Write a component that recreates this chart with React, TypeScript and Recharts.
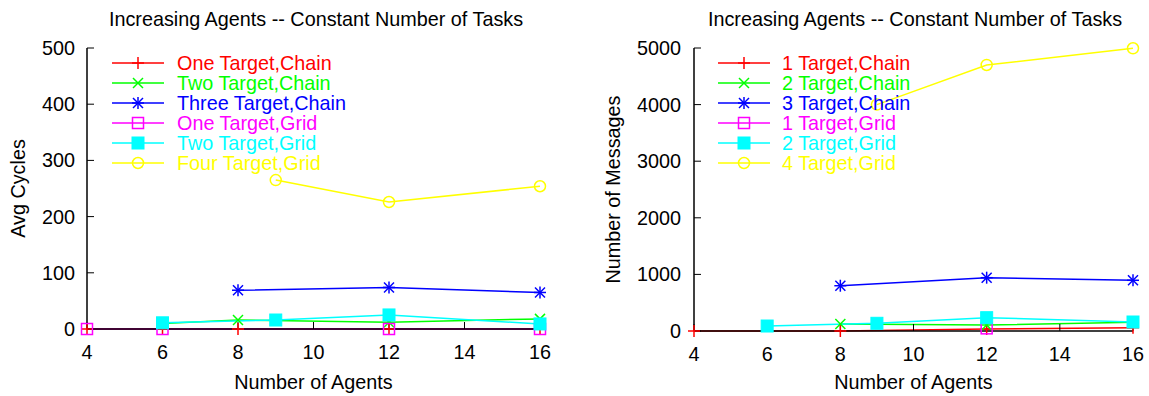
import { LineChart, Line, XAxis, YAxis, Legend } from 'recharts';

const FONT = '"Liberation Sans", Arial, Helvetica, sans-serif';
const FS = 19.8;

const titleText = 'Increasing Agents -- Constant Number of Tasks';
const agentTicks = [4, 6, 8, 10, 12, 14, 16];
const cycleTicks = [0, 100, 200, 300, 400, 500];
const messageTicks = [0, 1000, 2000, 3000, 4000, 5000];

// left panel: average cycles
const oneChainAgents = [4, 6, 8, 12, 16];
const oneChainCycles = [0, 0, 0, 0, 0];
const twoChainAgents = [6, 8, 12, 16];
const twoChainCycles = [10, 16, 12, 18];
const threeChainAgents = [8, 12, 16];
const threeChainCycles = [69, 74, 65];
const oneGridAgents = [4, 6, 12, 16];
const oneGridCycles = [0, 0, 0, 0];
const twoGridAgents = [6, 9, 12, 16];
const twoGridCycles = [11, 16, 25, 9];
const fourGridAgents = [9, 12, 16];
const fourGridCycles = [265, 226, 254];

// right panel: number of messages
const oneChainMsgAgents = [4, 8, 12, 16];
const oneChainMessages = [0, 0, 35, 58];
const twoChainMsgAgents = [8, 12, 16];
const twoChainMessages = [124, 106, 153];
const threeChainMsgAgents = [8, 12, 16];
const threeChainMessages = [800, 942, 896];
const oneGridMsgAgents = [12];
const oneGridMessages = [47];
const twoGridMsgAgents = [6, 9, 12, 16];
const twoGridMessages = [88, 136, 235, 159];
const fourGridMsgAgents = [9, 12, 16];
const fourGridMessages = [4000, 4700, 4995];

type Shape = 'plus' | 'cross' | 'star' | 'square' | 'filledSquare' | 'circle';

interface Series {
  name: string;
  color: string;
  shape: Shape;
  points: { agents: number; value: number }[];
}

const toPoints = (xs: number[], ys: number[]) => xs.map((x, i) => ({ agents: x, value: ys[i] }));

const cycleSeries: Series[] = [
  { name: 'One Target,Chain', color: '#ff0000', shape: 'plus', points: toPoints(oneChainAgents, oneChainCycles) },
  { name: 'Two Target,Chain', color: '#00ff00', shape: 'cross', points: toPoints(twoChainAgents, twoChainCycles) },
  { name: 'Three Target,Chain', color: '#0000ff', shape: 'star', points: toPoints(threeChainAgents, threeChainCycles) },
  { name: 'One Target,Grid', color: '#ff00ff', shape: 'square', points: toPoints(oneGridAgents, oneGridCycles) },
  { name: 'Two Target,Grid', color: '#00ffff', shape: 'filledSquare', points: toPoints(twoGridAgents, twoGridCycles) },
  { name: 'Four Target,Grid', color: '#ffff00', shape: 'circle', points: toPoints(fourGridAgents, fourGridCycles) },
];

const messageSeries: Series[] = [
  { name: '1 Target,Chain', color: '#ff0000', shape: 'plus', points: toPoints(oneChainMsgAgents, oneChainMessages) },
  { name: '2 Target,Chain', color: '#00ff00', shape: 'cross', points: toPoints(twoChainMsgAgents, twoChainMessages) },
  { name: '3 Target,Chain', color: '#0000ff', shape: 'star', points: toPoints(threeChainMsgAgents, threeChainMessages) },
  { name: '1 Target,Grid', color: '#ff00ff', shape: 'square', points: toPoints(oneGridMsgAgents, oneGridMessages) },
  { name: '2 Target,Grid', color: '#00ffff', shape: 'filledSquare', points: toPoints(twoGridMsgAgents, twoGridMessages) },
  { name: '4 Target,Grid', color: '#ffff00', shape: 'circle', points: toPoints(fourGridMsgAgents, fourGridMessages) },
];

function Marker({ cx, cy, shape, color }: { cx: number; cy: number; shape: Shape; color: string }) {
  const s = 6;
  const sw = 1.5;
  switch (shape) {
    case 'plus':
      return (
        <g stroke={color} strokeWidth={sw}>
          <line x1={cx - s} y1={cy} x2={cx + s} y2={cy} />
          <line x1={cx} y1={cy - s} x2={cx} y2={cy + s} />
        </g>
      );
    case 'cross':
      return (
        <g stroke={color} strokeWidth={sw}>
          <line x1={cx - 5} y1={cy - 5} x2={cx + 5} y2={cy + 5} />
          <line x1={cx - 5} y1={cy + 5} x2={cx + 5} y2={cy - 5} />
        </g>
      );
    case 'star':
      return (
        <g stroke={color} strokeWidth={sw}>
          <line x1={cx - s} y1={cy} x2={cx + s} y2={cy} />
          <line x1={cx} y1={cy - s} x2={cx} y2={cy + s} />
          <line x1={cx - 5} y1={cy - 5} x2={cx + 5} y2={cy + 5} />
          <line x1={cx - 5} y1={cy + 5} x2={cx + 5} y2={cy - 5} />
        </g>
      );
    case 'square':
      return <rect x={cx - 5.5} y={cy - 5.5} width={11} height={11} fill="none" stroke={color} strokeWidth={sw} />;
    case 'filledSquare':
      return <rect x={cx - 6} y={cy - 6} width={12} height={12} fill={color} stroke={color} strokeWidth={1} />;
    default:
      return <circle cx={cx} cy={cy} r={5.5} fill="none" stroke={color} strokeWidth={sw} />;
  }
}

function LegendBox({ series, textGap }: { series: Series[]; textGap: number }) {
  return (
    <div style={{ fontFamily: FONT, fontSize: FS }}>
      {series.map((s) => (
        <div key={s.name} style={{ display: 'flex', alignItems: 'center', height: 20, whiteSpace: 'nowrap' }}>
          <svg width={52} height={20} style={{ flex: 'none' }}>
            <line x1={0} y1={10} x2={52} y2={10} stroke={s.color} strokeWidth={1.5} />
            <Marker cx={26} cy={10} shape={s.shape} color={s.color} />
          </svg>
          <span style={{ color: s.color, marginLeft: textGap, lineHeight: '20px' }}>{s.name}</span>
        </div>
      ))}
    </div>
  );
}

interface PanelProps {
  series: Series[];
  yTicks: number[];
  yLabel: string;
  width: number;
  marginRight: number;
  yAxisWidth: number;
  xAxisHeight: number;
  yLabelX: number;
  yTickMargin: number;
  legendLeft: number;
  legendGap: number;
  titleCenter: number;
}

function Panel(p: PanelProps) {
  const tickStyle = { fontSize: FS, fill: '#000', fontFamily: FONT };
  const yMax = p.yTicks[p.yTicks.length - 1];
  return (
    <div style={{ position: 'relative', width: p.width, height: 396 }}>
      <div
        style={{
          position: 'absolute',
          left: p.titleCenter - 300,
          top: 7,
          width: 600,
          textAlign: 'center',
          fontFamily: FONT,
          fontSize: FS,
          lineHeight: '24px',
          color: '#000',
          zIndex: 2,
        }}
      >
        {titleText}
      </div>
      <LineChart width={p.width} height={396} margin={{ top: 48, right: p.marginRight, bottom: 0, left: 0 }}>
        <XAxis
          xAxisId="bottom"
          type="number"
          dataKey="agents"
          domain={[4, 16]}
          ticks={agentTicks}
          height={p.xAxisHeight}
          tickSize={-7}
          tickMargin={23}
          tick={tickStyle}
          stroke="#000"
          axisLine={{ stroke: '#000', strokeWidth: 1.5 }}
          tickLine={{ stroke: '#000' }}
          label={{ value: 'Number of Agents', position: 'insideBottom', offset: 7, style: { fontSize: FS, fill: '#000', fontFamily: FONT } }}
        />
        <XAxis
          xAxisId="top"
          orientation="top"
          type="number"
          dataKey="agents"
          domain={[4, 16]}
          ticks={agentTicks}
          allowDataOverflow
          height={0}
          tickSize={-7}
          tickFormatter={() => ''}
          axisLine={{ stroke: '#000', strokeWidth: 1.5 }}
          tickLine={{ stroke: '#000' }}
        />
        <YAxis
          yAxisId="left"
          type="number"
          dataKey="value"
          domain={[0, yMax]}
          ticks={p.yTicks}
          width={p.yAxisWidth}
          tickSize={-7}
          tickMargin={p.yTickMargin}
          tick={tickStyle}
          axisLine={{ stroke: '#000', strokeWidth: 1.5 }}
          tickLine={{ stroke: '#000' }}
          label={{
            value: p.yLabel,
            angle: -90,
            position: 'insideLeft',
            offset: p.yLabelX,
            style: { fontSize: FS, fill: '#000', fontFamily: FONT, textAnchor: 'middle' },
          }}
        />
        <YAxis
          yAxisId="right"
          orientation="right"
          type="number"
          domain={[0, yMax]}
          ticks={p.yTicks}
          allowDataOverflow
          width={0}
          tickSize={-7}
          tickFormatter={() => ''}
          axisLine={{ stroke: '#000', strokeWidth: 1.5 }}
          tickLine={{ stroke: '#000' }}
        />
        <Legend
          layout="vertical"
          align="center"
          verticalAlign="middle"
          wrapperStyle={{ left: p.legendLeft, top: 53, width: 'auto', height: 'auto' }}
          content={() => <LegendBox series={p.series} textGap={p.legendGap} />}
        />
        {p.series.map((s) => (
          <Line
            key={s.name}
            xAxisId="bottom"
            yAxisId="left"
            data={s.points}
            dataKey="value"
            name={s.name}
            stroke={s.color}
            strokeWidth={1.5}
            isAnimationActive={false}
            dot={(d: any) => <Marker key={`${s.name}-${d.index}`} cx={d.cx} cy={d.cy} shape={s.shape} color={s.color} />}
            activeDot={false}
          />
        ))}
      </LineChart>
    </div>
  );
}

export default function App() {
  return (
    <div style={{ position: 'absolute', left: 0, top: 0, width: 1149, height: 396, background: '#fff', display: 'flex' }}>
      <Panel
        series={cycleSeries}
        yTicks={cycleTicks}
        yLabel="Avg Cycles"
        width={575}
        marginRight={35}
        yAxisWidth={87}
        xAxisHeight={67}
        yLabelX={18}
        yTickMargin={19}
        legendLeft={112}
        legendGap={13}
        titleCenter={316}
      />
      <Panel
        series={messageSeries}
        yTicks={messageTicks}
        yLabel="Number of Messages"
        width={574}
        marginRight={16}
        yAxisWidth={119}
        xAxisHeight={65}
        yLabelX={38}
        yTickMargin={20}
        legendLeft={143}
        legendGap={12}
        titleCenter={340}
      />
    </div>
  );
}
